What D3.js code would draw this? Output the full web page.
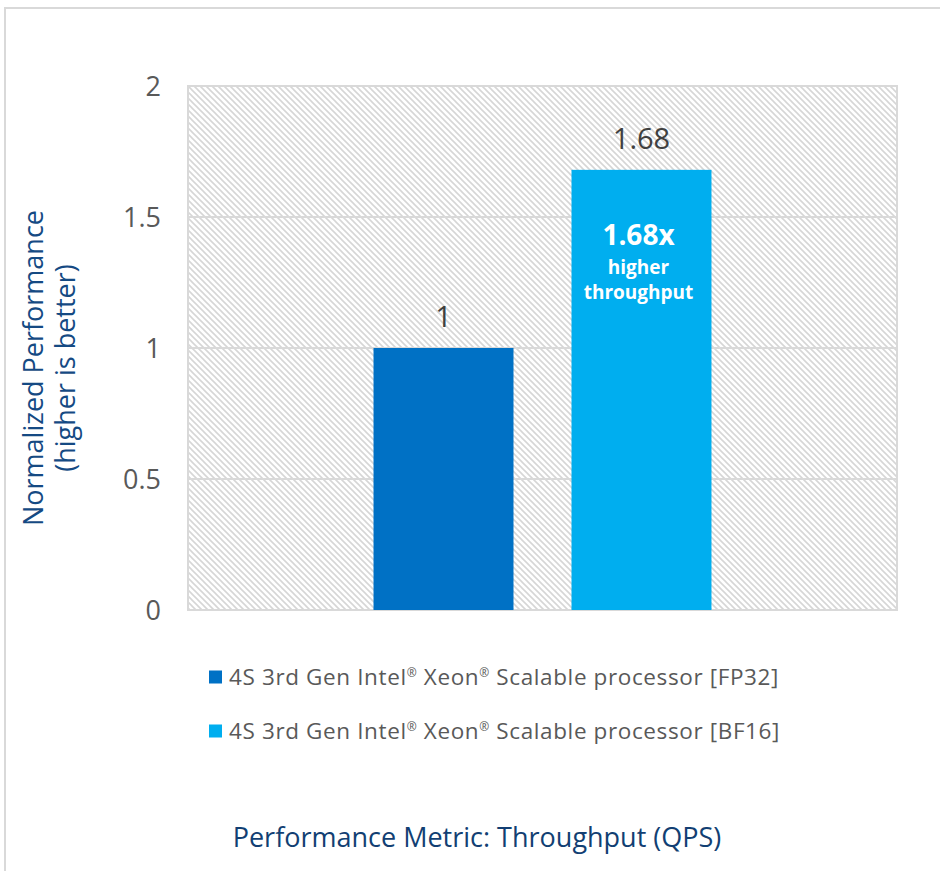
<!DOCTYPE html>
<html><head><meta charset="utf-8">
<script src="https://cdn.jsdelivr.net/npm/d3@7"></script>
<style>
body{margin:0;background:#fff;}
svg{display:block;font-family:"Open Sans",sans-serif;}
</style></head>
<body>
<svg id="chart" width="940" height="871"></svg>
<script>
const categories = ["Throughput"];
const series = ["FP32", "BF16"];
const legendPrefix = ["4S 3rd Gen Intel", " Xeon", " Scalable processor "];
const values = [1, 1.68];
const valueLabels = ["1", "1.68"];
const colors = ["#0071c5", "#00aeef"];
const yTicks = [0, 0.5, 1, 1.5, 2];
const yTickLabels = ["0", "0.5", "1", "1.5", "2"];
const yTitle = ["Normalized Performance", "(higher is better)"];
const xTitle = "Performance Metric: Throughput (QPS)";
const callout = ["1.68x", "higher", "throughput"];

const svg = d3.select("#chart");
const m = {left:188, top:86, right:897, bottom:610};

// outer frame
svg.append("rect").attr("x",5).attr("y",8).attr("width",960).attr("height",900)
  .attr("fill","none").attr("stroke","#d9d9d9").attr("stroke-width",2);

// hatch pattern
const defs = svg.append("defs");
const pat = defs.append("pattern").attr("id","hatch").attr("patternUnits","userSpaceOnUse")
  .attr("width",6).attr("height",6);
pat.append("path").attr("d","M0,0 L6,6 M-3,3 L3,9 M3,-3 L9,3")
  .attr("stroke","#d6d6d6").attr("stroke-width",1.6).attr("fill","none");

const y = d3.scaleLinear().domain([0,2]).range([m.bottom, m.top]);
const x0 = d3.scaleBand().domain(categories).range([m.left, m.right]).paddingInner(0.3544).paddingOuter(0.3544);
const x1 = d3.scaleBand().domain(series).range([0, x0.bandwidth()]).paddingInner(0.293).paddingOuter(0);

svg.append("rect").attr("x",m.left).attr("y",m.top).attr("width",m.right-m.left).attr("height",m.bottom-m.top)
  .attr("fill","url(#hatch)").attr("stroke","#d9d9d9").attr("stroke-width",2);

// grid
svg.append("g").selectAll("line").data(yTicks.filter(d=>d>0 && d<2)).join("line")
  .attr("x1",m.left).attr("x2",m.right).attr("y1",d=>y(d)).attr("y2",d=>y(d))
  .attr("stroke","#d9d9d9").attr("stroke-width",2);

// y axis
const yAxis = d3.axisLeft(y).tickValues(yTicks).tickFormat((d,i)=>yTickLabels[i]).tickSize(0).tickPadding(0);
const ga = svg.append("g").attr("transform",`translate(${161},0)`).call(yAxis);
ga.select(".domain").remove();
ga.selectAll("text").attr("font-size",27).attr("fill","#595959").attr("font-family","Open Sans")
  .attr("dy","0.36em");

// bars
const cat = categories[0];
svg.append("g").selectAll("rect").data(series).join("rect")
  .attr("x",d=>x0(cat)+x1(d)).attr("width",x1.bandwidth())
  .attr("y",(d,i)=>y(values[i])).attr("height",(d,i)=>y(0)-y(values[i]))
  .attr("fill",(d,i)=>colors[i]);

// value labels
svg.append("g").selectAll("text").data(series).join("text")
  .attr("x",d=>x0(cat)+x1(d)+x1.bandwidth()/2).attr("y",(d,i)=>y(values[i])-21)
  .attr("text-anchor","middle").attr("font-size",29).attr("fill","#404040")
  .text((d,i)=>valueLabels[i]);

// callout
const cx = x0(cat)+x1(series[1])+x1.bandwidth()/2 - 3;
const cy = y(values[1]);
svg.append("text").attr("x",cx).attr("y",cy+75).attr("text-anchor","middle")
  .attr("font-size",28).attr("font-weight","bold").attr("fill","#fff").text(callout[0]);
svg.append("text").attr("x",cx).attr("y",cy+104).attr("text-anchor","middle")
  .attr("font-size",19).attr("font-weight","bold").attr("fill","#fff").text(callout[1]);
svg.append("text").attr("x",cx).attr("y",cy+129).attr("text-anchor","middle")
  .attr("font-size",19).attr("font-weight","bold").attr("fill","#fff").text(callout[2]);

// y title
const yt = svg.append("text").attr("transform",`translate(0,368) rotate(-90)`)
  .attr("text-anchor","middle").attr("fill","#154a83").attr("font-size",27);
yt.append("tspan").attr("x",0).attr("y",43).text(yTitle[0]);
yt.append("tspan").attr("x",0).attr("y",75).text(yTitle[1]);

// legend
const lg = svg.append("g").selectAll("g").data(series).join("g")
  .attr("transform",(d,i)=>`translate(209,${677+i*54})`);
lg.append("rect").attr("x",0).attr("y",-6.5).attr("width",13).attr("height",13).attr("fill",(d,i)=>colors[i]);
const lt = lg.append("text").attr("x",20).attr("y",0).attr("dy","0.35em").attr("font-size",22.5)
  .attr("fill","#595959").attr("letter-spacing",0.62);
lt.append("tspan").text(legendPrefix[0]);
lt.append("tspan").attr("font-size",12).attr("dy",-8).text("®");
lt.append("tspan").attr("dy",8).text(legendPrefix[1]);
lt.append("tspan").attr("font-size",12).attr("dy",-8).text("®");
lt.append("tspan").attr("dy",8).text(d=>legendPrefix[2]+"["+d+"]");

// x title
svg.append("text").attr("x",477).attr("y",838).attr("dy","0.35em").attr("text-anchor","middle")
  .attr("font-size",27).attr("fill","#123f73").text(xTitle);
</script>
</body></html>
